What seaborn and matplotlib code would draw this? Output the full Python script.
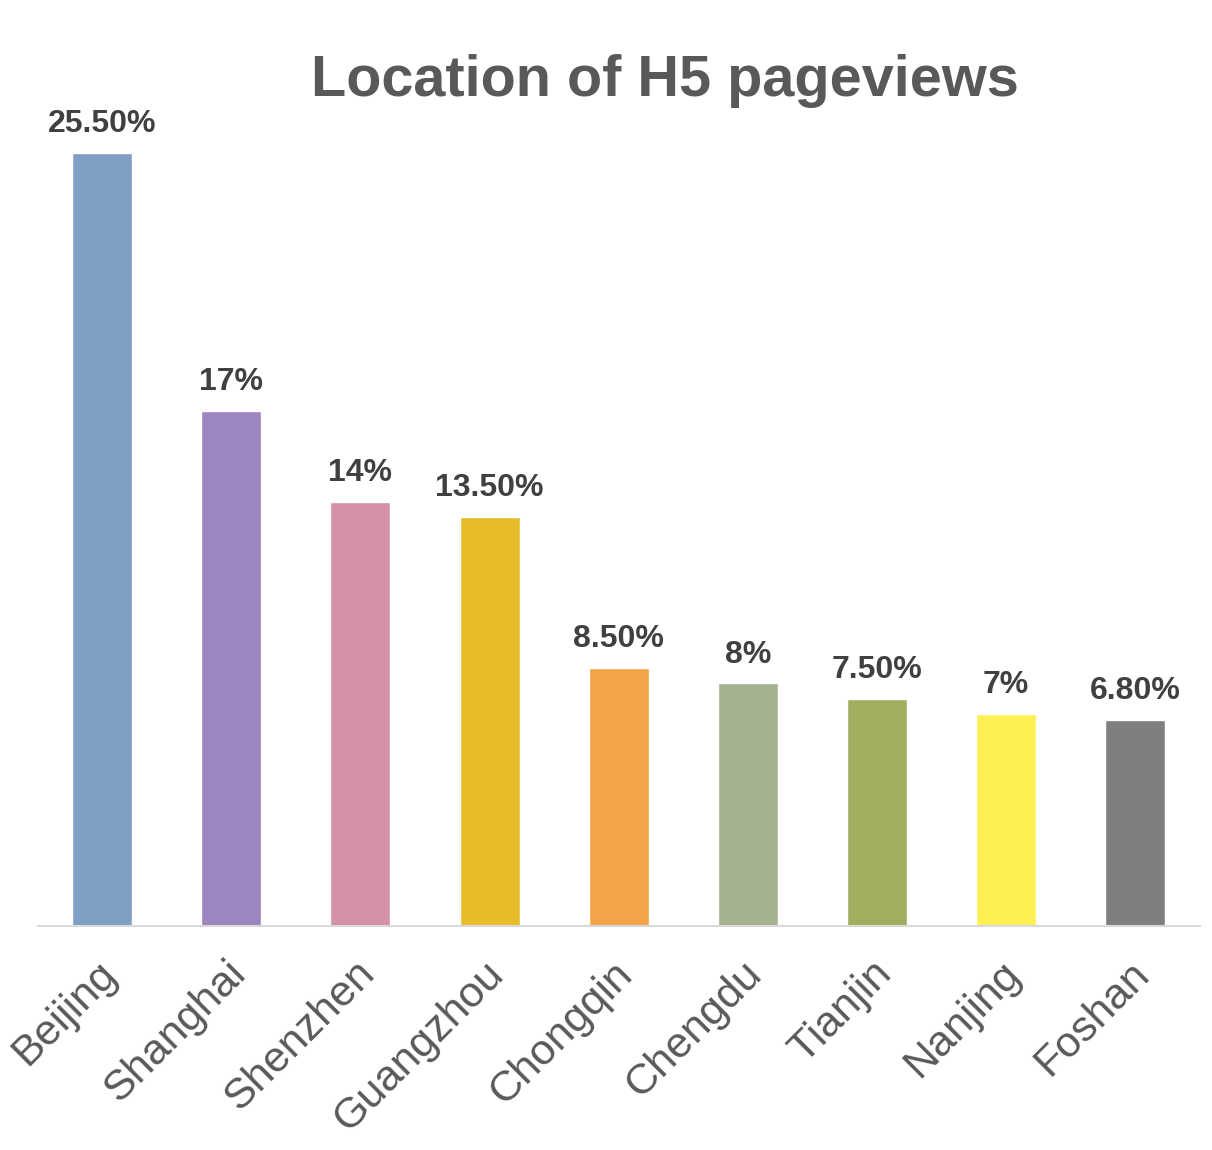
import matplotlib
matplotlib.use("Agg")
import matplotlib.pyplot as plt
import matplotlib.transforms as mtransforms
import seaborn as sns
import pandas as pd

cities = ["Beijing", "Shanghai", "Shenzhen", "Guangzhou", "Chongqin",
          "Chengdu", "Tianjin", "Nanjing", "Foshan"]
shares = [25.5, 17, 14, 13.5, 8.5, 8, 7.5, 7, 6.8]
share_labels = ["25.50%", "17%", "14%", "13.50%", "8.50%", "8%", "7.50%", "7%", "6.80%"]
bar_colors = ["#7F9FC4", "#9D85C0", "#D291A6", "#E6BC2A", "#F2A446",
              "#A5B292", "#9FAF5E", "#FCF055", "#7F7F7F"]

sns.set_style("white")
plt.rcParams['font.family'] = ['Liberation Sans', 'DejaVu Sans']

df = pd.DataFrame({"city": cities, "share": shares})

fig = plt.figure(figsize=(12.12, 11.5), dpi=100)
ax = fig.add_axes([0.031, 0.1948, 0.959, 0.7183])

sns.barplot(data=df, x="city", y="share", hue="city", palette=bar_colors,
            legend=False, width=0.465, saturation=1, ax=ax)

ax.set_xlim(-0.5, 8.5)
ax.set_ylim(0, 27.25)

for i, (v, lab) in enumerate(zip(shares, share_labels)):
    ax.annotate(lab, (i, v), xytext=(0, 10), textcoords="offset points",
                ha="center", va="bottom", fontsize=23, fontweight="bold",
                color="#404040")

ax.set_xlabel("")
ax.set_ylabel("")
ax.set_yticks([])
ax.tick_params(axis="x", length=0, pad=30)
shift = mtransforms.ScaledTranslation(8 / 100, 0, fig.dpi_scale_trans)
for t in ax.get_xticklabels():
    t.set_rotation(45)
    t.set_ha("right")
    t.set_va("center")
    t.set_rotation_mode("anchor")
    t.set_fontsize(31)
    t.set_color("#595959")
    t.set_transform(t.get_transform() + shift)

for side in ["left", "right", "top"]:
    ax.spines[side].set_visible(False)
ax.spines["bottom"].set_color("#D9D9D9")
ax.spines["bottom"].set_linewidth(1.5)

fig.text(0.549, 0.93, "Location of H5 pageviews", ha="center", va="center",
         fontsize=41.5, fontweight="bold", color="#595959")

fig.savefig("out.png", dpi=100)
